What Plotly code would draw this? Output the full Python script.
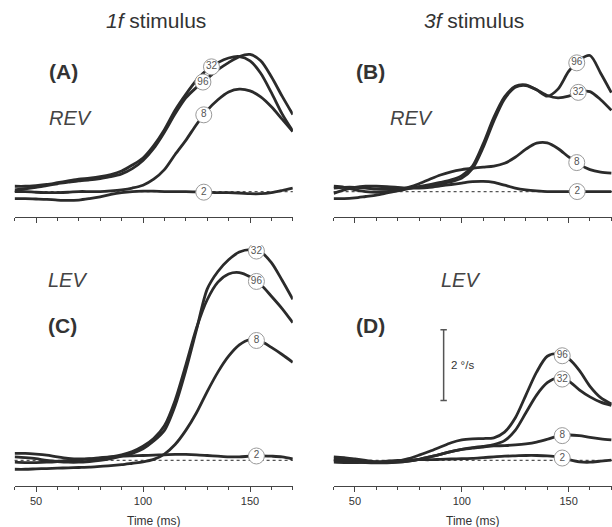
import numpy as np
import plotly.graph_objects as go

# ---------------- data (deg/s vs time in ms) ----------------
T = [40, 45, 50, 55, 60, 65, 70, 75, 80, 85, 90, 95, 100, 105, 110, 115,
     120, 125, 130, 135, 140, 145, 150, 155, 160, 165, 170]
SERIES = ["32", "96", "8", "2"]

# Panel A: 1f stimulus, REV
A_32 = [0.15, 0.15, 0.17, 0.20, 0.25, 0.30, 0.35, 0.38, 0.42, 0.48, 0.58, 0.75, 0.95, 1.30, 1.75, 2.30,
        2.75, 3.15, 3.45, 3.65, 3.78, 3.82, 3.70, 3.35, 2.80, 2.20, 1.71]
A_96 = [0.05, 0.08, 0.12, 0.17, 0.22, 0.27, 0.30, 0.33, 0.37, 0.42, 0.50, 0.65, 0.88, 1.22, 1.68, 2.20,
        2.65, 2.95, 3.20, 3.45, 3.65, 3.82, 3.88, 3.70, 3.25, 2.70, 2.18]
A_8 = [0.00, 0.00, -0.02, -0.03, -0.03, -0.02, 0.00, 0.00, 0.00, 0.02, 0.05, 0.10, 0.18, 0.35, 0.62, 1.05,
       1.45, 1.90, 2.30, 2.60, 2.82, 2.90, 2.85, 2.68, 2.40, 2.05, 1.70]
A_2 = [-0.20, -0.20, -0.21, -0.22, -0.24, -0.25, -0.24, -0.20, -0.15, -0.08, -0.03, 0.00, 0.01, 0.01, 0.00, 0.00,
       0.00, -0.01, -0.02, -0.03, -0.03, -0.04, -0.06, -0.06, -0.03, 0.03, 0.10]

# Panel B: 3f stimulus, REV
B_32 = [0.10, 0.12, 0.12, 0.10, 0.07, 0.06, 0.07, 0.10, 0.13, 0.17, 0.22, 0.28, 0.38, 0.65, 1.25, 2.00,
        2.62, 2.95, 3.00, 2.88, 2.72, 2.65, 2.70, 2.82, 2.83, 2.60, 2.30]
B_96 = [-0.20, -0.20, -0.18, -0.14, -0.10, -0.04, 0.02, 0.08, 0.14, 0.20, 0.26, 0.33, 0.45, 0.72, 1.35, 2.10,
        2.68, 2.98, 3.02, 2.88, 2.70, 2.90, 3.40, 3.72, 3.85, 3.35, 2.80]
B_8 = [0.15, 0.12, 0.05, 0.00, -0.02, 0.00, 0.05, 0.12, 0.22, 0.35, 0.47, 0.56, 0.62, 0.66, 0.69, 0.72,
       0.80, 0.97, 1.20, 1.37, 1.38, 1.22, 0.98, 0.77, 0.62, 0.55, 0.52]
B_2 = [-0.05, 0.05, 0.12, 0.15, 0.15, 0.14, 0.12, 0.10, 0.10, 0.12, 0.16, 0.20, 0.24, 0.28, 0.29, 0.26,
       0.18, 0.10, 0.05, 0.02, 0.00, 0.00, 0.00, 0.00, 0.00, 0.00, 0.00]

# Panel C: 1f stimulus, LEV
C_32 = [0.10, 0.08, 0.05, 0.00, -0.03, -0.05, -0.05, -0.03, 0.00, 0.05, 0.12, 0.20, 0.33, 0.55, 0.85, 1.55,
        2.55, 3.70, 4.85, 5.35, 5.68, 5.90, 5.97, 5.90, 5.60, 5.10, 4.56]
C_96 = [-0.05, -0.06, -0.06, -0.05, -0.03, 0.00, 0.02, 0.04, 0.06, 0.10, 0.16, 0.25, 0.40, 0.62, 0.98, 1.70,
        2.70, 3.75, 4.55, 5.05, 5.28, 5.32, 5.20, 4.98, 4.65, 4.30, 3.90]
C_8 = [-0.25, -0.25, -0.24, -0.23, -0.22, -0.21, -0.20, -0.19, -0.17, -0.15, -0.12, -0.08, -0.04, 0.03, 0.18, 0.45,
       0.85, 1.35, 1.95, 2.50, 2.95, 3.27, 3.42, 3.38, 3.20, 3.00, 2.78]
C_2 = [0.20, 0.20, 0.18, 0.15, 0.10, 0.06, 0.04, 0.05, 0.08, 0.10, 0.12, 0.13, 0.14, 0.15, 0.16, 0.17,
       0.17, 0.16, 0.14, 0.12, 0.10, 0.10, 0.12, 0.13, 0.12, 0.10, 0.04]

# Panel D: 3f stimulus, LEV
D_32 = [0.05, 0.03, 0.00, -0.03, -0.05, -0.06, -0.05, -0.02, 0.03, 0.10, 0.17, 0.25, 0.31, 0.36, 0.40, 0.45,
        0.56, 0.85, 1.35, 1.85, 2.20, 2.34, 2.25, 2.00, 1.80, 1.65, 1.56]
D_96 = [0.10, 0.08, 0.04, 0.00, -0.04, -0.05, -0.02, 0.05, 0.15, 0.26, 0.38, 0.50, 0.58, 0.61, 0.62, 0.64,
        0.80, 1.20, 1.85, 2.50, 2.95, 3.02, 2.88, 2.55, 2.10, 1.78, 1.60]
D_8 = [0.00, -0.02, -0.04, -0.06, -0.07, -0.07, -0.05, -0.02, 0.03, 0.10, 0.17, 0.25, 0.31, 0.35, 0.38, 0.41,
       0.42, 0.44, 0.47, 0.52, 0.60, 0.69, 0.72, 0.70, 0.65, 0.61, 0.58]
D_2 = [-0.05, -0.06, -0.06, -0.05, -0.04, -0.02, 0.00, 0.01, 0.02, 0.02, 0.03, 0.04, 0.05, 0.06, 0.08, 0.10,
       0.12, 0.13, 0.14, 0.14, 0.13, 0.10, 0.02, -0.04, -0.05, -0.02, 0.01]

# label x-positions (ms) for the circled series labels
A_LABEL_X = {"32": 132, "96": 128, "8": 128.4, "2": 128.4}
B_LABEL_X = {"32": 154.5, "96": 153.8, "8": 153.8, "2": 154}
C_LABEL_X = {"32": 153, "96": 153, "8": 153, "2": 153}
D_LABEL_X = {"32": 147, "96": 147, "8": 147, "2": 147}

TICKS = [50, 100, 150]
SCALE_BAR_X = 91.5      # ms, in panel D
SCALE_BAR_Y0 = 1.7      # deg/s
SCALE_BAR_LEN = 2       # deg/s

# ---------------- layout helpers ----------------
W, H = 612, 527
def px(xp):
    return xp / W
def py(yp):
    return 1 - yp / H

LINE_COLOR = "#2b2b2b"
FONT = "Liberation Sans, Arial, sans-serif"

panels = [
    ("x", "y", dict(zip(SERIES, [A_32, A_96, A_8, A_2])), A_LABEL_X),
    ("x2", "y2", dict(zip(SERIES, [B_32, B_96, B_8, B_2])), B_LABEL_X),
    ("x3", "y3", dict(zip(SERIES, [C_32, C_96, C_8, C_2])), C_LABEL_X),
    ("x4", "y4", dict(zip(SERIES, [D_32, D_96, D_8, D_2])), D_LABEL_X),
]

fig = go.Figure()
for xa, ya, curves, labx in panels:
    for name in SERIES:
        fig.add_trace(go.Scatter(x=T, y=curves[name], mode="lines", xaxis=xa, yaxis=ya,
                                 line=dict(color=LINE_COLOR, width=2.8, shape="spline", smoothing=0.8),
                                 hoverinfo="skip", showlegend=False))
    lx = [labx[n] for n in SERIES]
    ly = [float(np.interp(labx[n], T, curves[n])) for n in SERIES]
    fig.add_trace(go.Scatter(x=lx, y=ly, mode="markers+text", xaxis=xa, yaxis=ya, text=SERIES,
                             textposition="middle center",
                             textfont=dict(family=FONT, size=10, color="#555"),
                             marker=dict(size=16, color="white", line=dict(color="#9a9a9a", width=1)),
                             hoverinfo="skip", showlegend=False))

# zero (dotted) reference lines
shapes = []
for xa, ya, _, _ in panels:
    shapes.append(dict(type="line", xref=f"{xa} domain", yref=ya, x0=0, x1=1, y0=0, y1=0,
                       line=dict(color="#555", width=1.2, dash="dot"), layer="below"))
# scale bar in panel D
cap = 1.5
shapes += [
    dict(type="line", xref="x4", yref="y4", x0=SCALE_BAR_X, x1=SCALE_BAR_X,
         y0=SCALE_BAR_Y0, y1=SCALE_BAR_Y0 + SCALE_BAR_LEN, line=dict(color="#555", width=1.5)),
    dict(type="line", xref="x4", yref="y4", x0=SCALE_BAR_X - cap, x1=SCALE_BAR_X + cap,
         y0=SCALE_BAR_Y0, y1=SCALE_BAR_Y0, line=dict(color="#555", width=1.5)),
    dict(type="line", xref="x4", yref="y4", x0=SCALE_BAR_X - cap, x1=SCALE_BAR_X + cap,
         y0=SCALE_BAR_Y0 + SCALE_BAR_LEN, y1=SCALE_BAR_Y0 + SCALE_BAR_LEN, line=dict(color="#555", width=1.5)),
]

def xax(domain, rng, labels):
    return dict(domain=domain, range=rng, showgrid=False, zeroline=False, automargin=False,
                showline=True, linecolor="#444", linewidth=1.2,
                ticks="outside", ticklen=5, tickwidth=1.2, tickcolor="#444",
                tickvals=TICKS, showticklabels=labels,
                tickfont=dict(family=FONT, size=11, color="#333"),
                minor=dict(ticks="outside", ticklen=3, tickwidth=1, tickcolor="#444", dtick=10, tick0=0),
                fixedrange=True)

def yax(domain, rng, anchor):
    return dict(domain=domain, range=rng, visible=False, showgrid=False, zeroline=False,
                anchor=anchor, fixedrange=True)

LEFT = [px(14.6), px(292.8)]
RIGHT = [px(333.6), 1.0]
TOP = [py(217), py(40)]
BOT = [py(485.5), py(245)]
TOP_R = [-0.72, 4.29]
BOT_R = [-0.71, 6.1]

fig.update_layout(
    width=W, height=H, margin=dict(l=0, r=0, t=0, b=0),
    paper_bgcolor="white", plot_bgcolor="white", template="none",
    xaxis=xax(LEFT, [40, 170], False), yaxis=yax(TOP, TOP_R, "x"),
    xaxis2=xax(RIGHT, [40, 170.3], False), yaxis2=yax(TOP, TOP_R, "x2"),
    xaxis3=xax(LEFT, [40, 170], True), yaxis3=yax(BOT, BOT_R, "x3"),
    xaxis4=xax(RIGHT, [40, 170.3], True), yaxis4=yax(BOT, BOT_R, "x4"),
    shapes=shapes,
)
fig.update_layout(xaxis=dict(anchor="y"), xaxis2=dict(anchor="y2"),
                  xaxis3=dict(anchor="y3"), xaxis4=dict(anchor="y4"))

ann = []
def text(x, y, s, size, xanchor="left", color="#333", xref="paper", yref="paper"):
    ann.append(dict(x=x, y=y, xref=xref, yref=yref, text=s, showarrow=False, xanchor=xanchor,
                    yanchor="middle", font=dict(family=FONT, size=size, color=color)))

text(px(156), py(20), "<i>1f</i> stimulus", 21, "center")
text(px(473.5), py(20), "<i>3f</i> stimulus", 21, "center")
text(px(46.7), py(71.7), "<b>(A)</b>", 21)
text(px(46.7), py(118), "<i>REV</i>", 20, color="#444")
text(px(354), py(71.7), "<b>(B)</b>", 21)
text(px(388), py(118), "<i>REV</i>", 20, color="#444")
text(px(46), py(280), "<i>LEV</i>", 20, color="#444")
text(px(46), py(325), "<b>(C)</b>", 21)
text(px(439), py(280), "<i>LEV</i>", 20, color="#444")
text(px(354), py(325), "<b>(D)</b>", 21)
text(0.5, py(520.7), "Time (ms)", 12, "center", xref="x3 domain")
text(0.5, py(520.7), "Time (ms)", 12, "center", xref="x4 domain")
text(SCALE_BAR_X + 2.5, SCALE_BAR_Y0 + SCALE_BAR_LEN / 2, "2 °/s", 11.5, "left", xref="x4", yref="y4")
fig.update_layout(annotations=ann)

fig.write_html("out.html", config={"displayModeBar": False},
               post_script="document.body.style.margin='0px';document.body.style.overflow='hidden';")
